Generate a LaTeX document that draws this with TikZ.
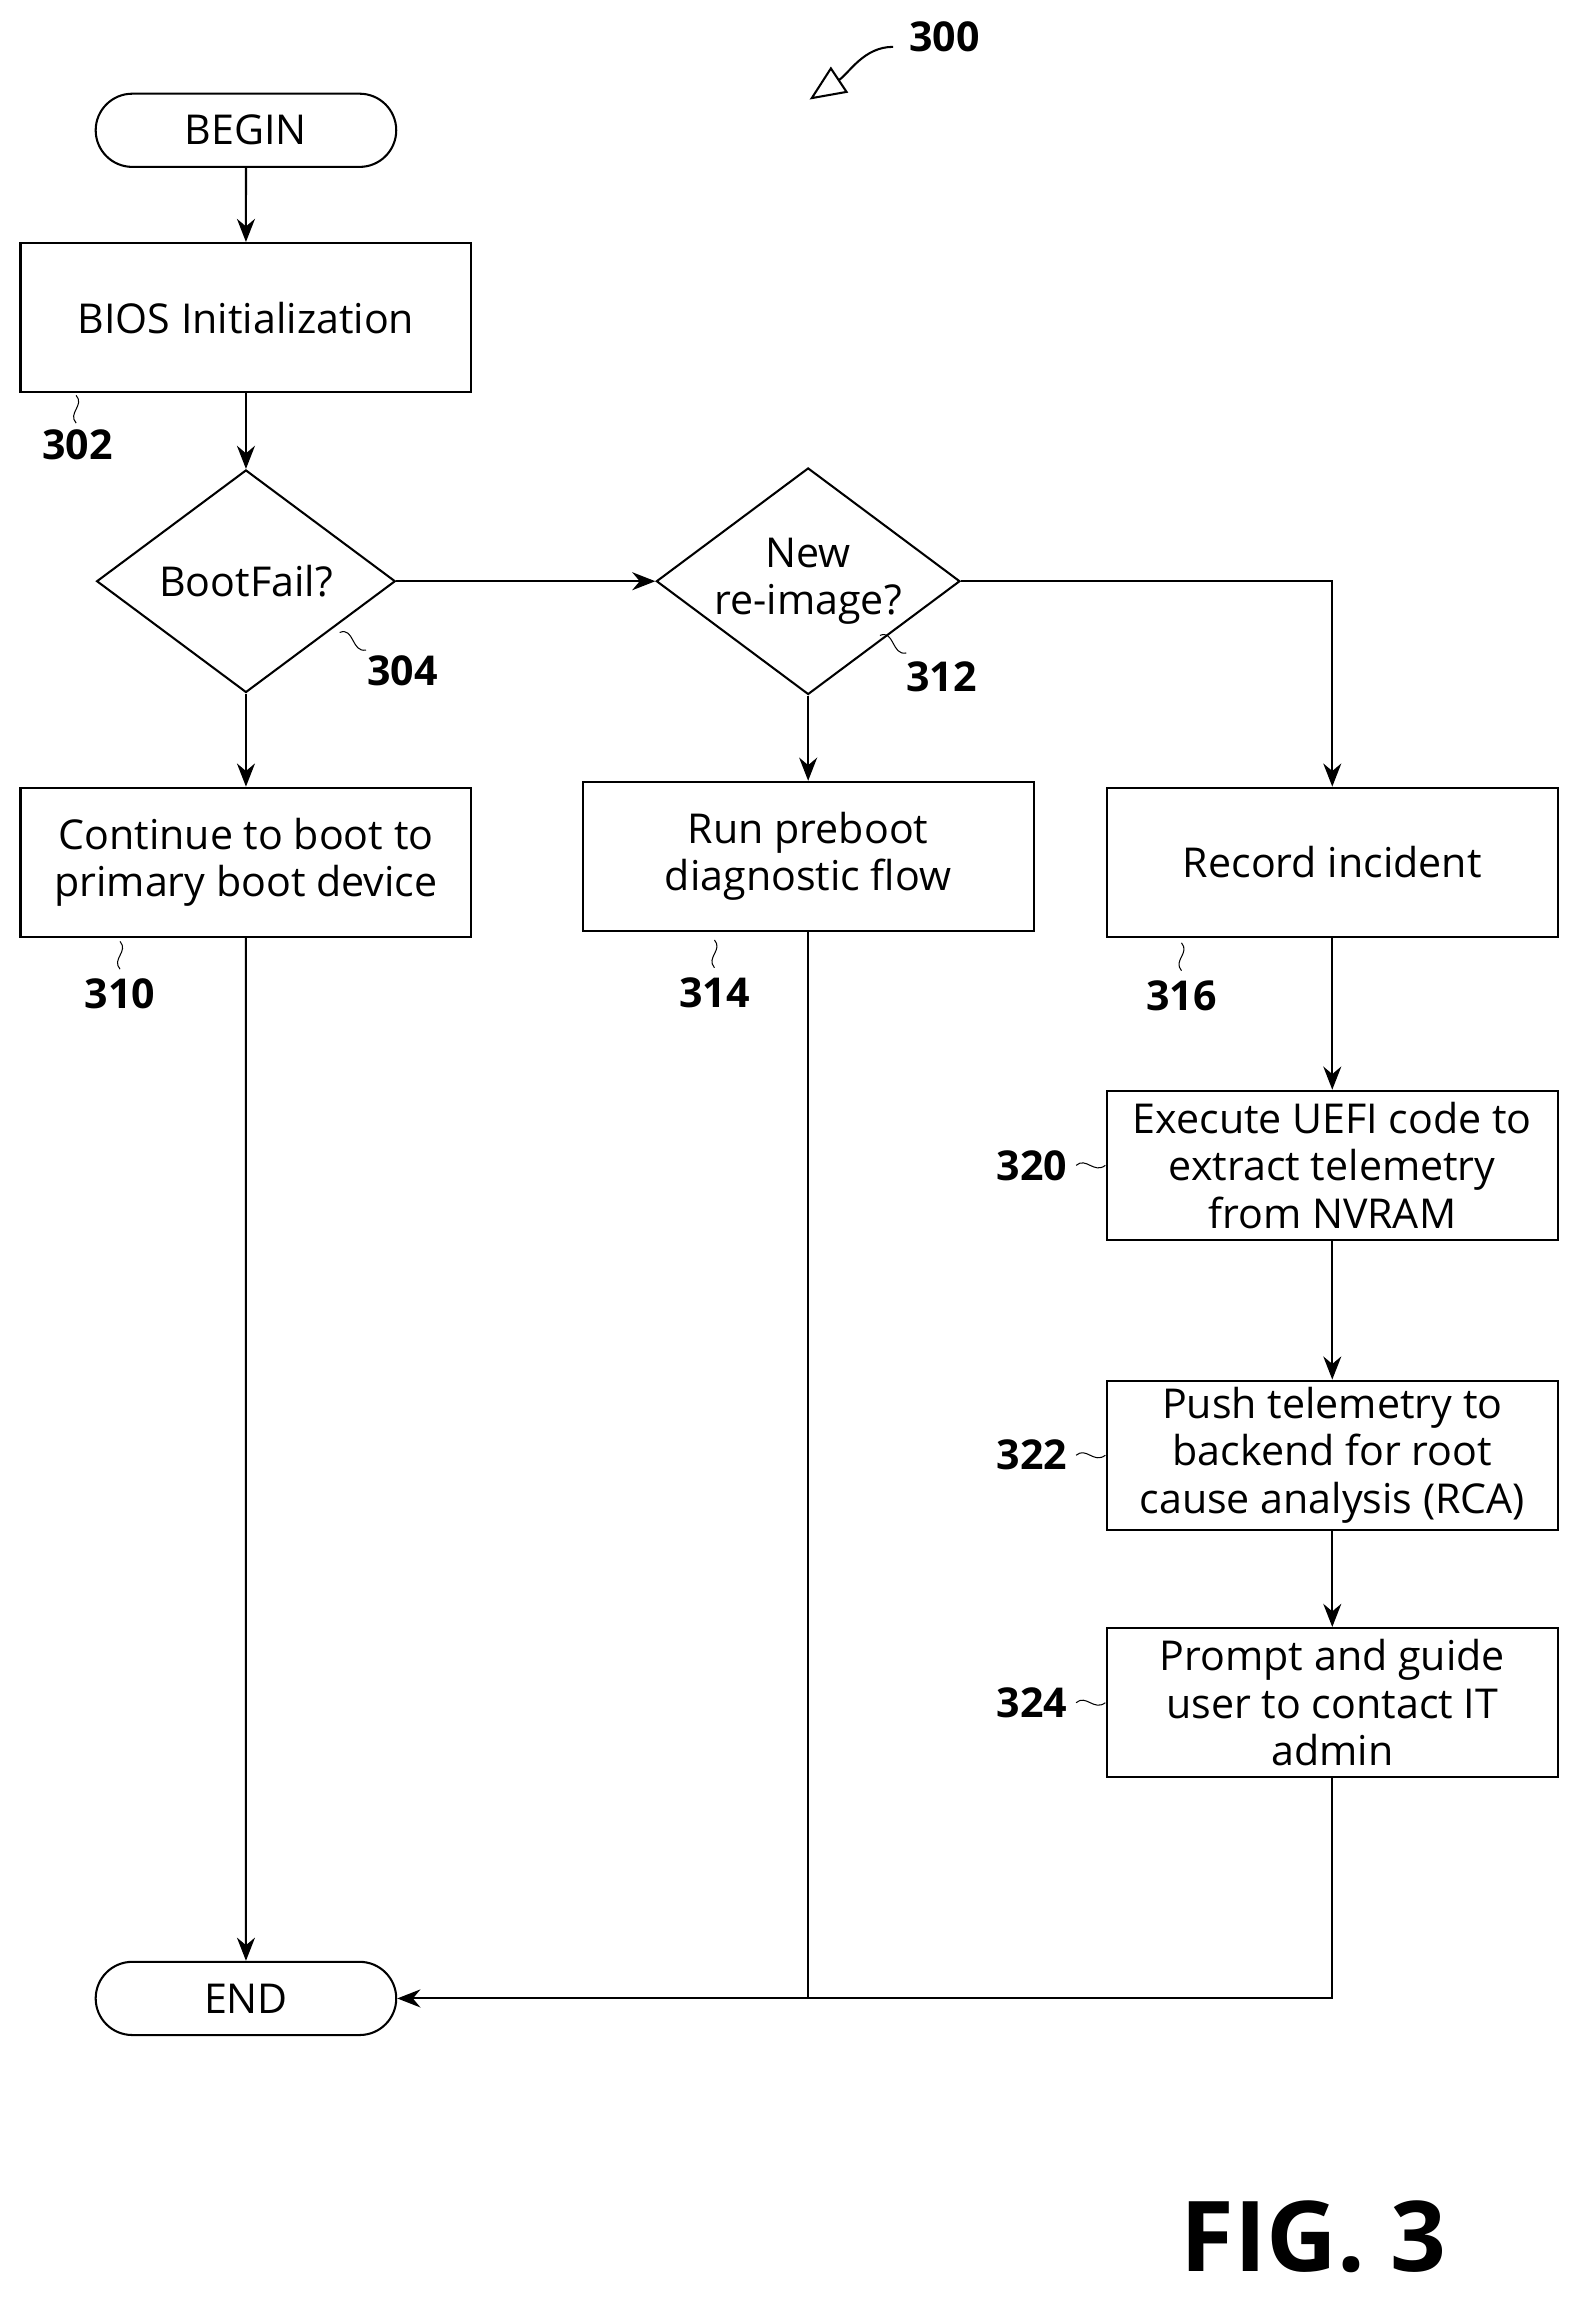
\documentclass[tikz,border=0pt]{standalone}
\usepackage{fontspec}
\setmainfont{Open Sans}
\usetikzlibrary{arrows.meta,shapes.geometric,positioning}
\tikzset{
  box/.style={draw, thick, rectangle, minimum width=308*0.02cm, minimum height=102*0.02cm, align=center, inner sep=2pt},
  term/.style={draw, thick, rounded rectangle, minimum width=217*0.02cm, minimum height=50*0.02cm},
  dec/.style={draw, thick, diamond, minimum width=204*0.02cm, minimum height=152*0.02cm, aspect=1.34, inner sep=0pt, align=center},
  flow/.style={thick, -{Stealth[length=9pt,width=7pt]}},
  ref/.style={font=\fontsize{16}{18}\selectfont\bfseries},
}
\usetikzlibrary{shapes.misc}
\begin{document}
\begin{tikzpicture}[x=0.02cm, y=-0.02cm, font=\fontsize{16}{18.5}\selectfont]
    \useasboundingbox (0,0) rectangle (1080,1571);
    % terminals and steps
    \node[term] (begin) at (168,89) {BEGIN};
    \node[box] (bios) at (168,217) {BIOS Initialization};
    \node[dec] (fail) at (168,397) {BootFail?};
    \node[dec] (reimg) at (552,397) {New\\re-image?};
    \node[box] (cont) at (168,589) {Continue to boot to\\primary boot device};
    \node[box] (diag) at (552,585) {Run preboot\\diagnostic flow};
    \node[box] (rec) at (910,589) {Record incident};
    \node[box] (uefi) at (910,796) {Execute UEFI code to\\extract telemetry\\from NVRAM};
    \node[box] (push) at (910,994) {Push telemetry to\\backend for root\\cause analysis (RCA)};
    \node[box] (prompt) at (910,1163) {Prompt and guide\\user to contact IT\\admin};
    \node[term] (end) at (168,1365) {END};
    \coordinate (turn) at (910,397);
    \coordinate (join) at (552,1365);

    % connectors
    \draw[flow] (begin) -- (bios);
    \draw[flow] (bios) -- (fail);
    \draw[flow] (fail) -- (cont);
    \draw[flow] (fail) -- (reimg);
    \draw[flow] (reimg) -- (diag);
    \draw[flow] (reimg.east) -- (turn) -- (rec);
    \draw[flow] (rec) -- (uefi);
    \draw[flow] (uefi) -- (push);
    \draw[flow] (push) -- (prompt);
    \draw[flow] (cont) -- (end);
    \draw[thick] (diag.south) -- (join);
    \draw[flow] (prompt.south) |- (end.east);

    % reference numerals
    \node[ref] (n302) at (53,304) {302};
    \draw (52,270) .. controls (58,277) and (46,282) .. (52,289);
    \node[ref] (n304) at (275,458) {304};
    \draw (232,432) .. controls (242,428) and (240,446) .. (250,444);
    \node[ref] (n312) at (643,462) {312};
    \draw (601,434) .. controls (611,430) and (609,448) .. (619,446);
    \node[ref] (n310) at (82,679) {310};
    \draw (82,643) .. controls (88,650) and (76,655) .. (82,662);
    \node[ref] (n314) at (488,678) {314};
    \draw (488,642) .. controls (494,649) and (482,654) .. (488,661);
    \node[ref] (n316) at (807,680) {316};
    \draw (807,644) .. controls (813,651) and (801,656) .. (807,663);
    \node[ref] (n320) at (705,796) {320};
    \draw (735,796) .. controls (742,790) and (747,802) .. (755,796);
    \node[ref] (n322) at (705,994) {322};
    \draw (735,994) .. controls (742,988) and (747,1000) .. (755,994);
    \node[ref] (n324) at (705,1163) {324};
    \draw (735,1163) .. controls (742,1157) and (747,1169) .. (755,1163);
    \node[ref] (n300) at (645,25) {300};
    \draw[thick, -{Triangle[open, length=14pt, width=12pt]}] (610,32) .. controls (590,32) and (580,50) .. (553,68);
    \node[font=\fontsize{38}{40}\selectfont\bfseries] (fig) at (897,1528) {FIG. 3};
\end{tikzpicture}
\end{document}
